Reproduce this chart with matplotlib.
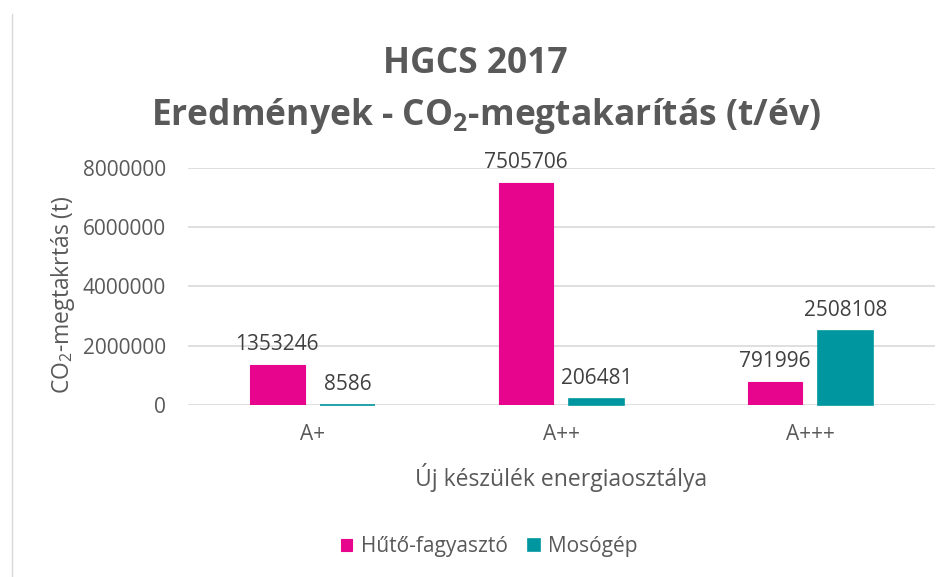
import matplotlib.pyplot as plt
import numpy as np
from matplotlib.lines import Line2D

plt.rcParams['font.family'] = ['Open Sans', 'DejaVu Sans']
plt.rcParams['mathtext.fontset'] = 'custom'
plt.rcParams['mathtext.rm'] = 'Open Sans'
plt.rcParams['mathtext.bf'] = 'Open Sans:bold'

categories = ['A+', 'A++', 'A+++']
series_names = ['Hűtő-fagyasztó', 'Mosógép']
huto = [1353246, 7505706, 791996]
mosogep = [8586, 206481, 2508108]
yticks = [0, 2000000, 4000000, 6000000, 8000000]

pink = '#E6058C'
teal = '#00969F'
grey = '#595959'

fig = plt.figure(figsize=(9.52, 5.77), dpi=100)
ax = fig.add_axes([0.1975, 0.298, 0.7845, 0.411])

x = np.arange(len(categories))
w = 0.22
off = 0.142
b1 = ax.bar(x - off, huto, w, color=pink, edgecolor=pink, linewidth=0.8,
            label=series_names[0], zorder=3)
b2 = ax.bar(x + off, mosogep, w, color=teal, edgecolor=teal, linewidth=1.2,
            label=series_names[1], zorder=3)
for r in b2:
    r.set_clip_on(False)

for bars, vals in [(b1, huto), (b2, mosogep)]:
    for r, v in zip(bars, vals):
        ax.annotate(str(v), (r.get_x() + r.get_width() / 2, v),
                    xytext=(0, 7), textcoords='offset points',
                    ha='center', va='bottom', fontsize=15, color='#404040')

ax.set_xlim(-0.5, 2.5)
ax.set_ylim(0, 8000000)
ax.set_yticks(yticks)
ax.set_yticklabels([str(t) for t in yticks])
ax.set_xticks(x)
ax.set_xticklabels(categories)
ax.tick_params(axis='both', length=0, labelsize=15, labelcolor=grey)
ax.tick_params(axis='y', pad=16)
ax.tick_params(axis='x', pad=14)
ax.grid(axis='y', color='#D9D9D9', linewidth=1.2, zorder=0)
for s in ax.spines.values():
    s.set_visible(False)

ax.set_ylabel('CO$_2$-megtakrtás (t)', fontsize=16.5, color=grey)
ax.yaxis.set_label_coords(-0.148, 0.466)
ax.set_xlabel('Új készülék energiaosztálya', fontsize=16.5, color=grey)
ax.xaxis.set_label_coords(0.5, -0.245)

fig.text(0.499, 1 - 73 / 577, 'HGCS 2017', ha='center', va='baseline',
         fontsize=25.5, fontweight='bold', color=grey)
fig.text(0.51, 1 - 125 / 577, r'Eredmények - CO$_\mathbf{2}$-megtakarítás (t/év)',
         ha='center', va='baseline', fontsize=25.5, fontweight='bold', color=grey)

leg = fig.legend(handles=[b1, b2], labels=series_names, loc='center',
                 bbox_to_anchor=(0.514, 0.052), ncol=2, frameon=False,
                 fontsize=15, handlelength=0.55, handleheight=0.55,
                 handletextpad=0.4, columnspacing=1.0)
for t in leg.get_texts():
    t.set_color(grey)

fig.add_artist(Line2D([0.0126, 0.0126], [0.0, 0.975], transform=fig.transFigure,
                      color='#D9D9D9', linewidth=1))

fig.savefig('out.png', dpi=100)
